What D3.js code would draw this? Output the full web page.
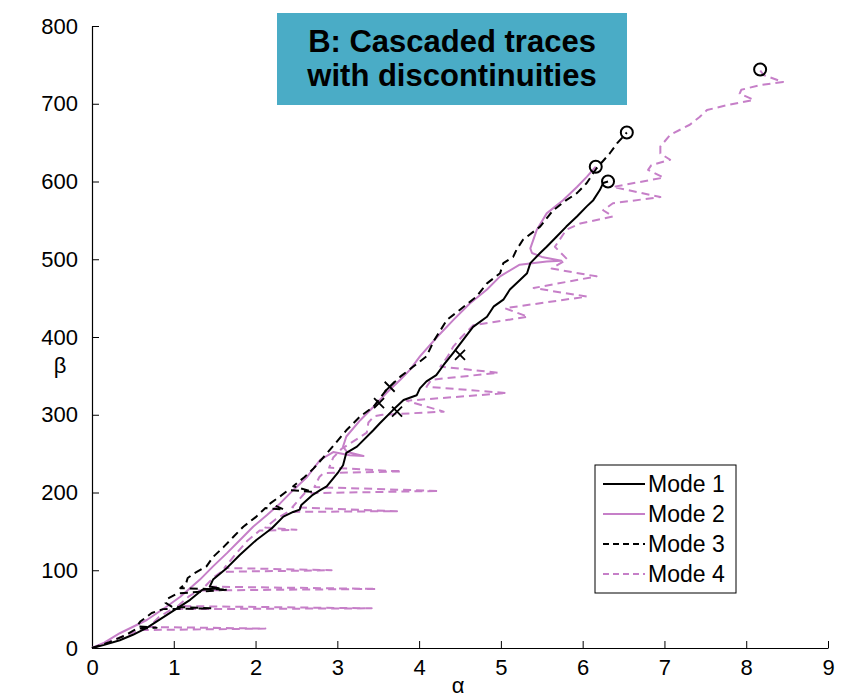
<!DOCTYPE html>
<html><head><meta charset="utf-8">
<script src="https://cdn.jsdelivr.net/npm/d3@7/dist/d3.min.js"></script>
<style>body{margin:0;background:#fff}svg{display:block}text{font-family:"Liberation Sans",Arial,sans-serif}</style>
</head><body><svg id="c" width="844" height="700"></svg>
<script>
const xTicks = [0,1,2,3,4,5,6,7,8,9];
const yTicks = [0,100,200,300,400,500,600,700,800];
const titleLines = ["B: Cascaded traces","with discontinuities"];
const legendLabels = ["Mode 1","Mode 2","Mode 3","Mode 4"];

const mode1Alpha = [0,0.15,0.34,0.5,0.67,0.85,1.04,1.2,1.35,1.55,1.44,1.48,1.65,1.81,2.01,2.2,2.34,2.46,2.54,2.56,2.7,2.79,2.87,3.01,3.07,3.11,3.24,3.44,3.52,3.68,3.81,3.97,4.01,4.09,4.21,4.3,4.42,4.55,4.66,4.83,4.91,5.03,5.11,5.23,5.32,5.36,5.48,5.56,5.68,5.8,5.93,6.05,6.13,6.21,6.25,6.31];
const mode1Beta  = [0,4,10,17,26,38,51,62,75,77,79,88,103,120,139,154,169,175,178,184,197,203,208,226,235,251,259,280,289,306,319,325,334,343,351,364,380,398,413,426,439,448,461,473,482,495,508,516,529,542,555,568,576,589,598,600];

const mode2Alpha = [0,0.15,0.34,0.67,0.91,1.08,1.32,1.48,1.65,1.81,1.97,2.14,2.3,2.46,2.63,2.79,2.95,3.15,3.32,3.12,3.07,3.11,3.28,3.44,3.6,3.77,3.89,4.01,4.22,4.42,4.62,4.83,4.99,5.23,5.56,5.74,5.5,5.38,5.36,5.44,5.56,5.76,5.93,6.05,6.16];
const mode2Beta  = [0,7,19,36,53,66,88,105,122,139,156,171,186,203,220,242,252,248,247,252,259,272,293,310,328,345,358,375,400,422,443,461,478,493,497,498,503,508,514,538,559,576,593,606,619];

const mode3Alpha = [0,0.2,0.4,0.55,0.79,0.55,0.59,0.73,0.87,1.46,0.98,0.9,0.92,1.04,1.66,1.08,1.15,1.17,1.25,1.4,1.48,1.61,1.73,1.85,2.01,2.12,2.35,2.18,2.3,2.4,2.7,2.46,2.6,2.71,2.87,3.11,3.28,3.44,3.6,3.77,3.93,4.09,4.18,4.34,4.5,4.7,4.83,4.99,5.03,5.15,5.19,5.27,5.48,5.64,5.8,5.93,6.05,6.17,6.33,6.42,6.54];
const mode3Beta  = [0,7,16,25,26,28,34,45,50,51,53,58,63,70,75,77,83,90,96,105,117,130,143,156,169,180,178,186,195,203,201,208,220,231,250,280,298,310,332,349,362,375,395,422,435,452,469,482,495,503,512,525,542,563,576,585,598,617,636,649,663];

const mode4Alpha = [0,0.3,0.59,2.12,0.7,0.82,0.98,3.42,1.05,1.18,1.3,3.48,1.38,1.5,1.58,2.93,1.62,1.75,1.9,2.05,2.5,2.12,2.25,2.4,3.73,2.45,2.55,2.6,4.24,2.72,2.78,2.83,3.79,2.9,2.95,3.05,3.2,3.36,3.38,3.45,3.55,4.3,3.85,5.07,4.09,4.15,4.97,4.26,4.35,4.42,4.52,4.66,5.33,5.05,6.05,5.4,6.17,5.62,5.81,5.66,5.8,5.97,6.37,6.25,6.37,6.95,6.37,6.99,6.8,6.84,7.07,6.95,6.95,7.07,7.31,7.43,7.52,7.76,8.09,7.92,7.94,8.17,8.45,8.21,8.17];
const mode4Beta  = [0,12,23,25,27,40,50,51,54,66,74,76,79,92,98,100,103,120,138,151,152,155,166,175,176,181,193,199,202,207,220,225,227,232,245,256,266,277,290,298,300,304,318,328,336,345,354,362,375,388,400,415,426,437,452,463,478,488,500,516,538,546,555,563,572,580,593,605,615,621,628,636,645,660,673,683,692,698,705,713,718,724,728,737,743];

const crossAlpha = [3.64,3.51,3.73,4.5];
const crossBeta  = [336,315,304,377];
const circleAlpha = [6.16,6.31,6.54,8.17];
const circleBeta  = [619,600,663,744];

const purple = "#c67fc8";
const modes = [
  {a:mode4Alpha,b:mode4Beta,color:purple,dash:"8,5"},
  {a:mode2Alpha,b:mode2Beta,color:purple,dash:null},
  {a:mode3Alpha,b:mode3Beta,color:"#000",dash:"8,5"},
  {a:mode1Alpha,b:mode1Beta,color:"#000",dash:null}
];
const legendStyles = [{color:"#000",dash:null},{color:purple,dash:null},{color:"#000",dash:"6,4"},{color:purple,dash:"6,4"}];

const svg = d3.select("#c");
const x = d3.scaleLinear().domain([0,9]).range([92,828]);
const y = d3.scaleLinear().domain([0,800]).range([648,26]);

// axes
const xAxis = d3.axisBottom(x).tickValues(xTicks).tickSizeInner(-7).tickSizeOuter(0).tickPadding(11);
const yAxis = d3.axisLeft(y).tickValues(yTicks).tickSizeInner(-7).tickSizeOuter(0).tickPadding(14);
const gx = svg.append("g").attr("transform","translate(0,648)").call(xAxis);
const gy = svg.append("g").attr("transform","translate(92,0)").call(yAxis);
[gx,gy].forEach(g=>{
  g.select(".domain").attr("stroke","#000").attr("stroke-width",1.2);
  g.selectAll(".tick line").attr("stroke","#000").attr("stroke-width",1);
  g.selectAll(".tick text").attr("fill","#000").style("font-size","22px").style("font-family","'Liberation Sans',Arial,sans-serif");
});

// lines
const line = d3.line().x(d=>x(d[0])).y(d=>y(d[1])).curve(d3.curveLinear);
modes.forEach(m=>{
  const pts = m.a.map((v,i)=>[v,m.b[i]]);
  svg.append("path").attr("d",line(pts)).attr("fill","none")
    .attr("stroke",m.color).attr("stroke-width",2)
    .attr("stroke-dasharray",m.dash).attr("stroke-linejoin","round");
});

// markers
crossAlpha.forEach((a,i)=>{
  const cx=x(a), cy=y(crossBeta[i]), s=5;
  svg.append("path").attr("d",`M${cx-s},${cy-s}L${cx+s},${cy+s}M${cx-s},${cy+s}L${cx+s},${cy-s}`)
    .attr("stroke","#000").attr("stroke-width",1.8);
});
circleAlpha.forEach((a,i)=>{
  svg.append("circle").attr("cx",x(a)).attr("cy",y(circleBeta[i])).attr("r",6)
    .attr("fill","none").attr("stroke","#000").attr("stroke-width",2);
});

// axis labels
svg.append("text").attr("x",458).attr("y",693).attr("text-anchor","middle").style("font-size","22px").text("α");
svg.append("text").attr("x",60).attr("y",373).attr("text-anchor","middle").style("font-size","22px").text("β");

// title box
svg.append("rect").attr("x",277).attr("y",13).attr("width",350).attr("height",92).attr("fill","#4aacc6");
titleLines.forEach((t,i)=>{
  svg.append("text").attr("x",452).attr("y",52+i*34).attr("text-anchor","middle")
    .style("font-size","31px").style("font-weight","bold").text(t);
});

// legend
svg.append("rect").attr("x",595).attr("y",465).attr("width",141).attr("height",128)
  .attr("fill","#fff").attr("stroke","#000").attr("stroke-width",1);
legendLabels.forEach((l,i)=>{
  const yy = 484 + i*30;
  svg.append("line").attr("x1",603).attr("x2",645).attr("y1",yy).attr("y2",yy)
    .attr("stroke",legendStyles[i].color).attr("stroke-width",2).attr("stroke-dasharray",legendStyles[i].dash);
  svg.append("text").attr("x",648).attr("y",yy).attr("dy","0.36em").style("font-size","23px").text(l);
});
</script></body></html>
